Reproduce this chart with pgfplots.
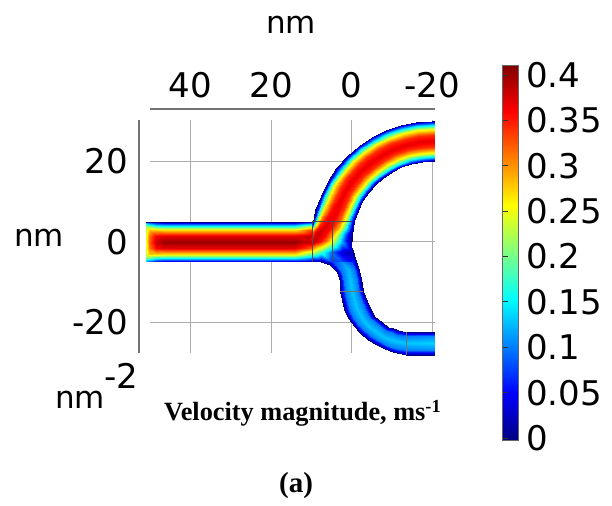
\documentclass[border=0pt]{standalone}
\usepackage{fontspec}
\setmainfont{DejaVu Sans}
\newfontfamily\tnr{Liberation Serif}
\usepackage{pgfplots}
\usepackage{pgfplotstable}
\pgfplotsset{compat=1.18}
\usepgfplotslibrary{patchplots}

% straight inlet channel: one row per x station, 11 points across (y)
\pgfplotstableread{
x y v
51 -5 0
51 -4.7 0.13
51 -4 0.21
51 -3 0.235
51 -1.5 0.245
51 0 0.245
51 1.5 0.245
51 3 0.235
51 4 0.21
51 4.7 0.13
51 5 0
50.3 -5 0
50.3 -4.7 0.1
50.3 -4 0.2
50.3 -3 0.28
50.3 -1.5 0.31
50.3 0 0.32
50.3 1.5 0.31
50.3 3 0.28
50.3 4 0.2
50.3 4.7 0.1
50.3 5 0
48.6 -5 0
48.6 -4.7 0.065
48.6 -4 0.165
48.6 -3 0.28
48.6 -1.5 0.36
48.6 0 0.38
48.6 1.5 0.36
48.6 3 0.28
48.6 4 0.165
48.6 4.7 0.065
48.6 5 0
46.5 -5 0
46.5 -4.7 0.05
46.5 -4 0.155
46.5 -3 0.27
46.5 -1.5 0.37
46.5 0 0.4
46.5 1.5 0.37
46.5 3 0.27
46.5 4 0.155
46.5 4.7 0.05
46.5 5 0
14 -5 0
14 -4.7 0.05
14 -4 0.155
14 -3 0.27
14 -1.5 0.37
14 0 0.4
14 1.5 0.37
14 3 0.27
14 4 0.155
14 4.7 0.05
14 5 0
9.5 -5 0
9.5 -4.7 0.03
9.5 -4 0.1
9.5 -3 0.19
9.5 -1.5 0.32
9.5 0 0.38
9.5 1.5 0.39
9.5 3 0.34
9.5 4 0.23
9.5 4.7 0.1
9.5 5 0.02
}\chantab

% junction below the upper bend: rows y = -5, -2.5, 0
\pgfplotstableread{
x y v
9.5 -5 0
7.5 -5 0
5 -5 0.07
2.5 -5 0.08
0 -5 0.05
9.5 -2.5 0.24
7.5 -2.5 0.18
5 -2.5 0.1
2.5 -2.5 0.03
0 -2.5 0.02
9.5 0 0.385
7.5 0 0.34
5 0 0.25
2.5 0 0.12
0 0 0
}\junctab

% upper bend, centre (-20,0): t = angle (deg), r = radius (nm)
\pgfplotstableread{
t r v
0 20 0
0 20.3 0.008
0 21 0.03
0 22 0.08
0 23.5 0.17
0 25 0.25
0 26.5 0.32
0 28 0.36
0 29 0.38
0 29.7 0.385
0 30 0.385
4.8 20 0
4.8 20.3 0.015
4.8 21 0.05
4.8 22 0.12
4.8 23.5 0.23
4.8 25 0.31
4.8 26.5 0.36
4.8 28 0.38
4.8 29 0.37
4.8 29.7 0.33
4.8 30 0.3
9.6 20 0
9.6 20.3 0.03
9.6 21 0.1
9.6 22 0.19
9.6 23.5 0.3
9.6 25 0.355
9.6 26.5 0.375
9.6 28 0.34
9.6 29 0.24
9.6 29.7 0.1
9.6 30 0
15 20 0
15 20.3 0.04
15 21 0.125
15 22 0.225
15 23.5 0.325
15 25 0.365
15 26.5 0.355
15 28 0.28
15 29 0.17
15 29.7 0.06
15 30 0
22.5 20 0
22.5 20.3 0.048
22.5 21 0.145
22.5 22 0.25
22.5 23.5 0.34
22.5 25 0.37
22.5 26.5 0.34
22.5 28 0.25
22.5 29 0.145
22.5 29.7 0.048
22.5 30 0
30 20 0
30 20.3 0.048
30 21 0.145
30 22 0.25
30 23.5 0.34
30 25 0.37
30 26.5 0.34
30 28 0.25
30 29 0.145
30 29.7 0.048
30 30 0
37.5 20 0
37.5 20.3 0.048
37.5 21 0.145
37.5 22 0.25
37.5 23.5 0.34
37.5 25 0.37
37.5 26.5 0.34
37.5 28 0.25
37.5 29 0.145
37.5 29.7 0.048
37.5 30 0
45 20 0
45 20.3 0.048
45 21 0.145
45 22 0.25
45 23.5 0.34
45 25 0.37
45 26.5 0.34
45 28 0.25
45 29 0.145
45 29.7 0.048
45 30 0
52.5 20 0
52.5 20.3 0.048
52.5 21 0.145
52.5 22 0.25
52.5 23.5 0.34
52.5 25 0.37
52.5 26.5 0.34
52.5 28 0.25
52.5 29 0.145
52.5 29.7 0.048
52.5 30 0
60 20 0
60 20.3 0.048
60 21 0.145
60 22 0.25
60 23.5 0.34
60 25 0.37
60 26.5 0.34
60 28 0.25
60 29 0.145
60 29.7 0.048
60 30 0
67.5 20 0
67.5 20.3 0.048
67.5 21 0.145
67.5 22 0.25
67.5 23.5 0.34
67.5 25 0.37
67.5 26.5 0.34
67.5 28 0.25
67.5 29 0.145
67.5 29.7 0.048
67.5 30 0
75 20 0
75 20.3 0.048
75 21 0.145
75 22 0.25
75 23.5 0.34
75 25 0.37
75 26.5 0.34
75 28 0.25
75 29 0.145
75 29.7 0.048
75 30 0
82.5 20 0
82.5 20.3 0.048
82.5 21 0.145
82.5 22 0.25
82.5 23.5 0.34
82.5 25 0.37
82.5 26.5 0.34
82.5 28 0.25
82.5 29 0.145
82.5 29.7 0.048
82.5 30 0
90 20 0
90 20.3 0.048
90 21 0.145
90 22 0.25
90 23.5 0.34
90 25 0.37
90 26.5 0.34
90 28 0.25
90 29 0.145
90 29.7 0.048
90 30 0
}\bendtab

% short straight outlet after the upper bend
\pgfplotstableread{
x y v
-20 20 0
-20 20.3 0.048
-20 21 0.145
-20 22 0.25
-20 23.5 0.34
-20 25 0.37
-20 26.5 0.34
-20 28 0.25
-20 29 0.145
-20 29.7 0.048
-20 30 0
-20.7 20 0
-20.7 20.3 0.048
-20.7 21 0.145
-20.7 22 0.25
-20.7 23.5 0.34
-20.7 25 0.37
-20.7 26.5 0.34
-20.7 28 0.25
-20.7 29 0.145
-20.7 29.7 0.048
-20.7 30 0
}\outtab

% lower S-shaped branch: one cross-section per row of 5 points
\pgfplotstableread{
x y v
7.5 -5 0
5.98 -4.3 0.06
3.7 -3.25 0.08
1.42 -2.2 0.045
-0.1 -1.5 0
5.4 -5.8 0
4.16 -5.46 0.085
2.3 -4.95 0.11
0.44 -4.44 0.075
-0.8 -4.1 0
3.6 -7.5 0
2.54 -7.26 0.095
0.95 -6.9 0.125
-0.64 -6.54 0.095
-1.7 -6.3 0
2.9 -9.9 0
1.86 -9.76 0.1
0.3 -9.55 0.13
-1.26 -9.34 0.1
-2.3 -9.2 0
2.8 -12.3 0
1.68 -12.3 0.1
0 -12.3 0.13
-1.68 -12.3 0.1
-2.8 -12.3 0
2.2 -15.7 0
1.02 -15.52 0.1
-0.75 -15.25 0.13
-2.52 -14.98 0.1
-3.7 -14.8 0
1.6 -17.5 0
0.44 -17.17 0.1
-1.3 -16.68 0.13
-3.04 -16.19 0.1
-4.2 -15.9 0
0.8 -19.1 0
-0.32 -18.68 0.1
-2.0 -18.05 0.13
-3.68 -17.42 0.1
-4.8 -17.0 0
-0.5 -21.1 0
-1.52 -20.56 0.1
-3.05 -19.75 0.13
-4.58 -18.94 0.1
-5.6 -18.4 0
-2.1 -22.8 0
-3.0 -22.1 0.1
-4.35 -21.05 0.13
-5.7 -20.0 0.1
-6.6 -19.3 0
-4.1 -24.4 0
-4.82 -23.55 0.1
-5.9 -22.28 0.13
-6.98 -21.0 0.1
-7.7 -20.15 0
-6.2 -25.7 0
-6.76 -24.82 0.1
-7.6 -23.5 0.13
-8.44 -22.18 0.1
-9.0 -21.3 0
-8.2 -26.7 0
-8.6 -25.66 0.1
-9.2 -24.1 0.13
-9.8 -22.54 0.1
-10.2 -21.5 0
-10.3 -27.4 0
-10.56 -26.34 0.1
-10.95 -24.75 0.13
-11.34 -23.16 0.1
-11.6 -22.1 0
-13.6 -28.2 0
-13.6 -27.04 0.1
-13.6 -25.3 0.13
-13.6 -23.56 0.1
-13.6 -22.4 0
-20.7 -28.2 0
-20.7 -27.04 0.105
-20.7 -25.3 0.135
-20.7 -23.56 0.105
-20.7 -22.4 0
}\lowtab

\begin{document}
\begin{tikzpicture}
\path (0,0) rectangle (306pt,250.5pt);
\begin{axis}[
  at={(75.1pt,74pt)}, anchor=south west,
  scale only axis, width=142.4pt, height=116.55pt,
  x dir=reverse,
  xmin=-20.7, xmax=50, ymin=-27.7, ymax=30.3,
  clip=false,
  axis line style={draw=none},
  major tick length=0pt,
  xtick={-20,0,20,40}, xticklabels={-20,0,20,40},
  ytick={-20,0,20}, yticklabels={-20,0,20},
  xticklabel pos=upper,
  grid=major,
  major grid style={black!32, line width=0.5pt},
  ticklabel style={font=\fontsize{17}{20}\selectfont, inner sep=0pt},
  xticklabel style={anchor=base, yshift=10.95pt},
  yticklabel style={anchor=east, xshift=-10.95pt},
  colormap/jet,
  point meta min=-0.0022, point meta max=0.411,
  colorbar,
  colorbar style={
    at={(parent axis.north east)}, anchor=north west,
    xshift=25.35pt, yshift=27.45pt,
    width=7.8pt, height=187.5pt,
    ytick={0,0.05,0.1,0.15,0.2,0.25,0.3,0.35,0.4},
    yticklabels={0,0.05,0.1,0.15,0.2,0.25,0.3,0.35,0.4},
    ytick pos=left, yticklabel pos=right,
    major tick length=2.5pt, tick align=inside,
    tick style={black!80, line width=0.4pt},
    axis line style={draw=black!60, line width=0.4pt},
    yticklabel style={font=\fontsize{17}{20}\selectfont, inner sep=0pt, anchor=west, xshift=3.8pt},
  },
]
\addplot[patch, patch type=rectangle, mesh input=lattice, mesh/cols=5,
  shader=interp, point meta=explicit] table[x=x, y=y, meta=v] {\lowtab};
\addplot[patch, patch type=rectangle, mesh input=lattice, mesh/cols=11,
  shader=interp, point meta=explicit] table[x=x, y=y, meta=v] {\chantab};
\addplot[patch, patch type=rectangle, mesh input=lattice, mesh/cols=5,
  shader=interp, point meta=explicit] table[x=x, y=y, meta=v] {\junctab};
\addplot[patch, patch type=rectangle, mesh input=lattice, mesh/cols=11,
  shader=interp, point meta=explicit]
  table[x expr={-20+\thisrow{r}*cos(\thisrow{t})},
        y expr={\thisrow{r}*sin(\thisrow{t})}, meta=v] {\bendtab};
\addplot[patch, patch type=rectangle, mesh input=lattice, mesh/cols=11,
  shader=interp, point meta=explicit] table[x=x, y=y, meta=v] {\outtab};

% domain boundaries
\draw[black!70, line width=0.3pt] (axis cs:9.7,-5) -- (axis cs:9.7,5) -- (axis cs:0,5);
\draw[black!70, line width=0.3pt] (axis cs:4.7,-5) -- (axis cs:4.7,5);
\draw[black!55, line width=0.3pt] (axis cs:2.8,-12.3) -- (axis cs:-2.8,-12.3);
\draw[black!55, line width=0.3pt] (axis cs:-13.6,-28.2) -- (axis cs:-13.6,-22.4);

% detached axis lines
\draw[black!55, line width=0.6pt] (axis cs:50,33) -- (axis cs:-20.7,33);
\draw[black!55, line width=0.6pt] (axis cs:52.8,30.3) -- (axis cs:52.8,-27.7);
\end{axis}

\node[font=\fontsize{15.5}{18}\selectfont] at (145.5pt,238pt) {nm};
\node[font=\fontsize{15.5}{18}\selectfont] at (19.5pt,131.75pt) {nm};
\node[font=\fontsize{17}{20}\selectfont] at (60.5pt,62.5pt) {-2};
\node[font=\fontsize{15.5}{18}\selectfont] at (40pt,50.5pt) {nm};
\node[font=\tnr\bfseries\fontsize{13.15}{15}\selectfont, anchor=base] at (151.5pt,40pt)
  {Velocity magnitude, ms\textsuperscript{-1}};
\node[font=\tnr\bfseries\fontsize{14.5}{17}\selectfont] at (148pt,7.5pt) {(a)};
\end{tikzpicture}
\end{document}
